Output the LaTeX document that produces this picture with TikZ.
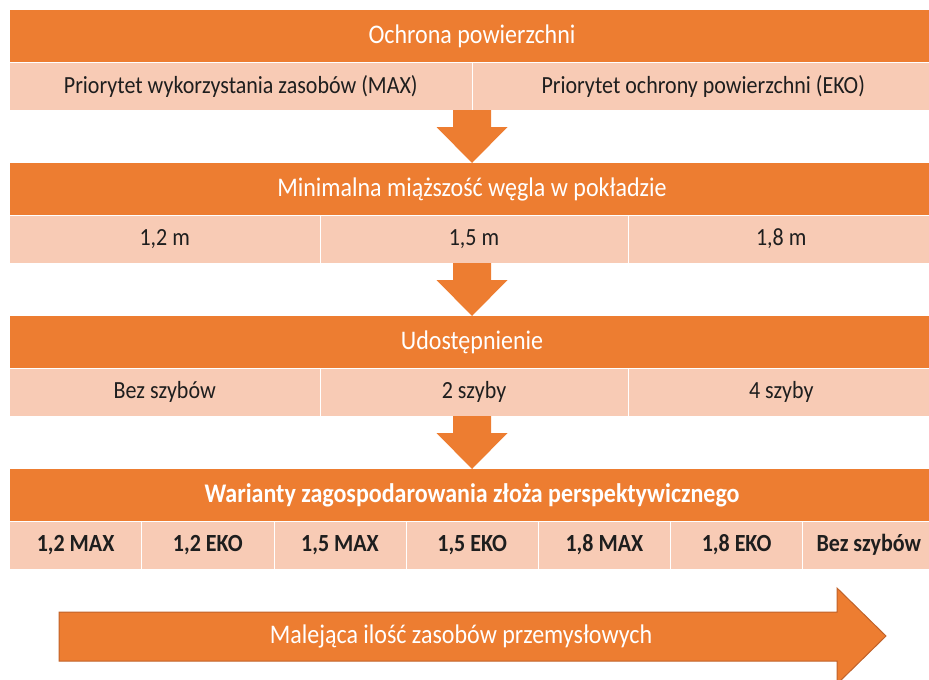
\documentclass[tikz,border=0pt]{standalone}
\usepackage{fontspec}
\setmainfont{Carlito}
\definecolor{org}{HTML}{ED7D31}
\definecolor{lite}{HTML}{F8CBB5}
\definecolor{orgdark}{HTML}{C0622A}
\definecolor{txt}{HTML}{1E1E1E}
\newcommand{\tall}[1]{\scalebox{1}[1.12]{#1}}
\begin{document}
\begin{tikzpicture}[x=1pt,y=-1pt,
  hdr/.style={fill=org, text=white, draw=none, inner sep=0pt, outer sep=0pt,
    minimum height=52pt, minimum width=925pt, anchor=north west,
    font=\fontsize{24}{28}\selectfont},
  cell/.style={fill=lite, text=txt, draw=white, line width=0.8pt, inner sep=0pt, outer sep=0pt,
    minimum height=48pt, anchor=north west, font=\fontsize{22}{26}\selectfont},
  bcell/.style={cell, font=\fontsize{22}{26}\selectfont\bfseries},
  downarrow/.style={fill=org, draw=none},
]
\useasboundingbox (0,0) rectangle (929,680);
\clip (0,0) rectangle (929,680);

% Block 1
\node[hdr] (h1) at (9.5,10) {\tall{Ochrona powierzchni}};
\node[cell, minimum width=462.5pt] (c11) at (9.5,62) {\tall{Priorytet wykorzystania zasobów (MAX)}};
\node[cell, minimum width=462.5pt] (c12) at (472,62) {\tall{Priorytet ochrony powierzchni (EKO)}};

% Block 2
\node[hdr] (h2) at (9.5,163) {\tall{Minimalna miąższość węgla w pokładzie}};
\node[cell, minimum width=310.5pt] (c21) at (9.5,215) {\tall{1,2 m}};
\node[cell, minimum width=308pt] (c22) at (320,215) {\tall{1,5 m}};
\node[cell, minimum width=306.5pt] (c23) at (628,215) {\tall{1,8 m}};

% Block 3
\node[hdr] (h3) at (9.5,316) {\tall{Udostępnienie}};
\node[cell, minimum width=310.5pt] (c31) at (9.5,368) {\tall{Bez szybów}};
\node[cell, minimum width=308pt] (c32) at (320,368) {\tall{2 szyby}};
\node[cell, minimum width=306.5pt] (c33) at (628,368) {\tall{4 szyby}};

% Block 4
\node[hdr, font=\fontsize{24}{28}\selectfont\bfseries] (h4) at (9.5,469) {\tall{Warianty zagospodarowania złoża perspektywicznego}};
\node[bcell, minimum width=132.2pt] (c41) at (9.5,521) {\tall{1,2 MAX}};
\node[bcell, minimum width=132.2pt] (c42) at (141.7,521) {\tall{1,2 EKO}};
\node[bcell, minimum width=132.2pt] (c43) at (273.9,521) {\tall{1,5 MAX}};
\node[bcell, minimum width=132.2pt] (c44) at (406.1,521) {\tall{1,5 EKO}};
\node[bcell, minimum width=132.2pt] (c45) at (538.3,521) {\tall{1,8 MAX}};
\node[bcell, minimum width=132.2pt] (c46) at (670.5,521) {\tall{1,8 EKO}};
\node[bcell, minimum width=132.2pt] (c47) at (802.7,521) {\tall{Bez szybów}};

% Down arrows
\foreach \h in {h2,h3,h4}{
  \begin{scope}[shift={(\h.north)}]
    \fill[downarrow] (-19,-53) -- (19,-53) -- (19,-36) -- (35.5,-36) -- (0,0)
      -- (-35.5,-36) -- (-19,-36) -- cycle;
  \end{scope}
}

% Big right arrow
\fill[org, draw=orgdark, line width=1pt] (59,612) -- (837,612) -- (837,588) -- (886,636)
  -- (837,684) -- (837,661) -- (59,661) -- cycle;
\node[text=white, font=\fontsize{24}{28}\selectfont, inner sep=0pt] (bar) at (461,636.5) {\tall{Malejąca ilość zasobów przemysłowych}};
\end{tikzpicture}
\end{document}
